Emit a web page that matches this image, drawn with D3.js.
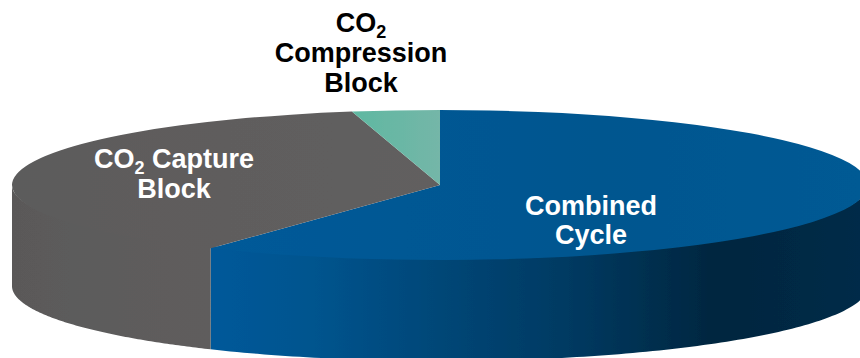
<!DOCTYPE html>
<html>
<head>
<meta charset="utf-8">
<script src="https://cdn.jsdelivr.net/npm/d3@7/dist/d3.min.js"></script>
<style>
html,body{margin:0;padding:0;background:#fff;overflow:hidden}
svg{display:block}
text{font-family:"Liberation Sans",Arial,sans-serif;font-weight:700;font-size:27px;text-anchor:middle}
</style>
</head>
<body>
<svg id="chart" width="860" height="358"></svg>
<script>
const categories = ["Combined Cycle", "CO2 Capture Block", "CO2 Compression Block"];
const shares = [59.0, 37.7, 3.3];

const svg = d3.select("#chart");
const cx = 440, cy = 185, rx = 428, ry = 75, depth = 101;

const pie = d3.pie().sort(null).value(d => d)(shares);
const arc = d3.arc().innerRadius(0).outerRadius(rx);

const defs = svg.append("defs");
function gradient(id, stops, x1, x2) {
  const g = defs.append("linearGradient").attr("id", id)
    .attr("gradientUnits", "userSpaceOnUse")
    .attr("x1", x1).attr("x2", x2).attr("y1", 0).attr("y2", 0);
  stops.forEach(s => g.append("stop").attr("offset", s[0]).attr("stop-color", s[1]));
}
gradient("side0", [[0, "#00599a"], [0.16, "#00548e"], [0.36, "#004676"], [0.55, "#003a62"], [0.78, "#00263f"], [1, "#002b48"]], 210, 860);
gradient("side1", [[0, "#5a5959"], [0.3, "#5c5b5b"], [1, "#5f5d5d"]], 12, 210);
gradient("top0", [[0, "#005a99"], [0.6, "#00568f"], [1, "#005a94"]], 210 - cx, 860 - cx);
gradient("top1", [[0, "#5c5b5b"], [1, "#625f5f"]], 12 - cx, 440 - cx);
gradient("top2", [[0, "#5fb8a1"], [1, "#74b6a8"]], 352 - cx, 440 - cx);
const blur = defs.append("filter").attr("id", "soft")
  .attr("x", "-2%").attr("y", "-2%").attr("width", "104%").attr("height", "104%");
blur.append("feGaussianBlur").attr("stdDeviation", 0.6);

const pieGroup = svg.append("g").attr("filter", "url(#soft)");

// Wall: only the part of each slice on the near side of the ellipse (90° to 270° clockwise from top)
const px = a => cx + rx * Math.sin(a);
const py = (a, dz) => cy - ry * Math.cos(a) + dz;
const line = d3.line().x(d => d[0]).y(d => d[1]);
const walls = pie.map((s, i) => {
  const a0 = Math.max(s.startAngle, Math.PI / 2);
  const a1 = Math.min(s.endAngle, 3 * Math.PI / 2);
  if (a1 <= a0) return null;
  const angles = d3.range(0, 121).map(k => a0 + (a1 - a0) * k / 120);
  // upper edge is tucked slightly under the top face so no seam shows
  const pts = angles.map(a => [px(a), py(a, -3 * Math.abs(Math.cos(a)))])
    .concat(angles.slice().reverse().map(a => [px(a), py(a, depth)]));
  return { i, d: line(pts) + "Z" };
}).filter(Boolean);

pieGroup.append("g").selectAll("path").data(walls).join("path")
  .attr("d", d => d.d)
  .attr("fill", d => `url(#side${d.i})`);

// Top face: the pie flattened into the ellipse
pieGroup.append("g")
  .attr("transform", `translate(${cx},${cy}) scale(1,${ry / rx})`)
  .selectAll("path").data(pie).join("path")
  .attr("d", arc)
  .attr("fill", (d, i) => `url(#top${i})`);

// Labels
const labels = [
  { x: 361, fill: "#000", lines: [{ y: 32, t: "CO", sub: "2" }, { y: 62, t: "Compression" }, { y: 92, t: "Block" }] },
  { x: 174, fill: "#fff", lines: [{ y: 168, t: "CO", sub: "2", rest: " Capture" }, { y: 198, t: "Block" }] },
  { x: 591, fill: "#fff", lines: [{ y: 215, t: "Combined" }, { y: 244, t: "Cycle" }] }
];
labels.forEach(l => {
  const g = svg.append("g").attr("fill", l.fill);
  l.lines.forEach(r => {
    const t = g.append("text").attr("x", l.x).attr("y", r.y);
    t.append("tspan").text(r.t);
    if (r.sub) {
      t.append("tspan").attr("dy", 6).style("font-size", "18px").text(r.sub);
      if (r.rest) t.append("tspan").attr("dy", -6).text(r.rest);
    }
  });
});
</script>
</body>
</html>
